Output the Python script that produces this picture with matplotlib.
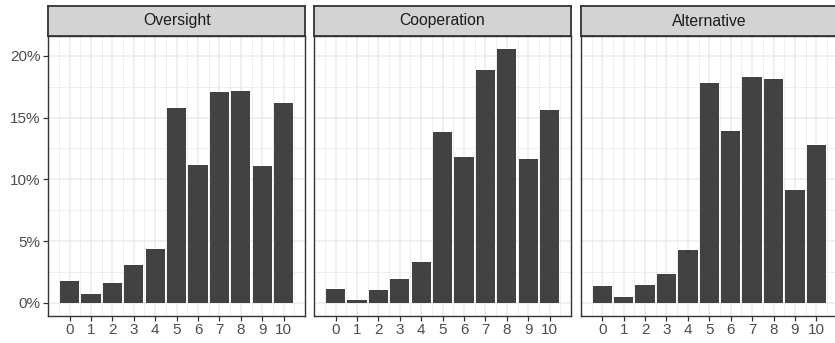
import matplotlib
matplotlib.use("Agg")
import matplotlib.pyplot as plt
from matplotlib.ticker import MultipleLocator, FuncFormatter
import numpy as np

plt.rcParams['font.family'] = ['Liberation Sans', 'DejaVu Sans']

panels = ["Oversight", "Cooperation", "Alternative"]
scores = list(range(11))
oversight = [1.8, 0.75, 1.6, 3.07, 4.39, 15.74, 11.13, 17.03, 17.17, 11.05, 16.15]
cooperation = [1.16, 0.27, 1.02, 1.94, 3.29, 13.83, 11.78, 18.81, 20.57, 11.64, 15.61]
alternative = [1.37, 0.46, 1.43, 2.32, 4.29, 17.82, 13.88, 18.30, 18.11, 9.16, 12.75]
series = [oversight, cooperation, alternative]

W, H = 835, 343
fig = plt.figure(figsize=(W / 100, H / 100), dpi=100)

# panel geometry in pixels (left, width); the third panel runs off the right edge
lefts = [48.3, 314.3, 581.0]
pw = 256.6
p_top, p_bot = 36.0, 315.7
s_top = 6.0

ymax = max(max(s) for s in series)
ylo, yhi = -0.05 * ymax, 1.05 * ymax
xlo, xhi = -0.45 - 0.05 * 10.9, 10.45 + 0.05 * 10.9

for i, (name, vals) in enumerate(zip(panels, series)):
    x0 = lefts[i] / W
    ax = fig.add_axes([x0, 1 - p_bot / H, pw / W, (p_bot - p_top) / H])
    ax.bar(scores, vals, width=0.9, color="#424242", zorder=3)
    ax.set_xlim(xlo, xhi)
    ax.set_ylim(ylo, yhi)
    ax.xaxis.set_major_locator(MultipleLocator(1))
    ax.xaxis.set_minor_locator(MultipleLocator(0.5))
    ax.yaxis.set_major_locator(MultipleLocator(5))
    ax.yaxis.set_minor_locator(MultipleLocator(2.5))
    ax.yaxis.set_major_formatter(FuncFormatter(lambda v, p: f"{v:.0f}%"))
    ax.grid(which="major", color="#EBEBEB", linewidth=1.1, zorder=0)
    ax.grid(which="minor", color="#EBEBEB", linewidth=0.6, zorder=0)
    ax.set_axisbelow(True)
    ax.tick_params(which="minor", length=0)
    ax.tick_params(which="major", length=3.5, width=0.9, color="#333333",
                   labelcolor="#4D4D4D", labelsize=11, pad=2)
    if i > 0:
        ax.tick_params(axis="y", left=False, labelleft=False)
    for sp in ax.spines.values():
        sp.set_color("#333333")
        sp.set_linewidth(1.0)

    sx = fig.add_axes([x0, 1 - p_top / H, pw / W, (p_top - s_top) / H])
    sx.set_facecolor("#D3D3D3")
    sx.set_xticks([])
    sx.set_yticks([])
    for sp in sx.spines.values():
        sp.set_color("#333333")
        sp.set_linewidth(1.3)
    sx.text(0.5, 0.5, name, ha="center", va="center", fontsize=11.3,
            color="#1A1A1A", transform=sx.transAxes)

fig.savefig("out.png", dpi=100)
